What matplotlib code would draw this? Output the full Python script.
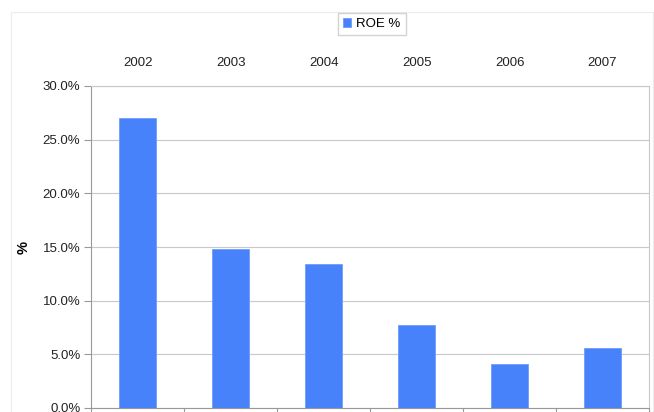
import matplotlib.pyplot as plt
import matplotlib.patches as mpatches
import numpy as np

plt.rcParams['font.family'] = ['Liberation Sans', 'DejaVu Sans']

years = ['2002', '2003', '2004', '2005', '2006', '2007']
roe = [27.0, 14.8, 13.4, 7.7, 4.1, 5.6]
yticks = [0, 5, 10, 15, 20, 25, 30]

fig = plt.figure(figsize=(6.54, 4.12), dpi=100)
left, right, top, bottom = 91.4, 649.0, 86.0, 408.0
ax = fig.add_axes([left / 654, (412 - bottom) / 412, (right - left) / 654, (bottom - top) / 412])

# faint outer chart border
fig.patches.append(mpatches.Rectangle((11 / 654, -0.1), (653 - 11) / 654, 1.1 - 12.5 / 412,
                                      transform=fig.transFigure, fill=False,
                                      edgecolor='#ececec', linewidth=0.8))

x = np.arange(len(years))
ax.bar(x, roe, width=0.4, color='#4782fb', edgecolor='#6f9dfb', linewidth=0.6,
       label='ROE %', zorder=3)

ax.set_xlim(-0.5, len(years) - 0.5)
ax.set_ylim(0, 30)
ax.set_yticks(yticks)
ax.set_yticklabels(['%.1f%%' % v for v in yticks])
ax.yaxis.grid(True, color='#c8c8c8', linewidth=0.8, zorder=0)

ax.set_xticks(x)
ax.set_xticklabels(years)
ax.set_xticks(np.arange(len(years) + 1) - 0.5, minor=True)
ax.tick_params(axis='x', which='major', top=True, labeltop=True, bottom=False,
               labelbottom=False, length=0, pad=12, labelsize=9.5, colors='#222222')
ax.tick_params(axis='x', which='minor', bottom=True, top=False, length=5,
               color='#999999', width=0.8)
ax.tick_params(axis='y', length=5, color='#999999', width=0.8, labelsize=9.5,
               labelcolor='#222222', pad=3)

for s in ['left', 'bottom']:
    ax.spines[s].set_color('#999999')
    ax.spines[s].set_linewidth(0.8)
for s in ['top', 'right']:
    ax.spines[s].set_color('#c8c8c8')
    ax.spines[s].set_linewidth(0.8)

ax.set_ylabel('%', fontsize=10.5, fontweight='bold')
ax.yaxis.set_label_coords(-(left - 31) / (right - left), 0.5)

fig.legend(loc='center', bbox_to_anchor=(372 / 654, 1 - 24 / 412), fontsize=9.5,
           frameon=True, fancybox=False, edgecolor='#c8c8c8', handlelength=0.6,
           handleheight=0.6, handletextpad=0.4, borderpad=0.4)

fig.savefig('out.png', dpi=100)
